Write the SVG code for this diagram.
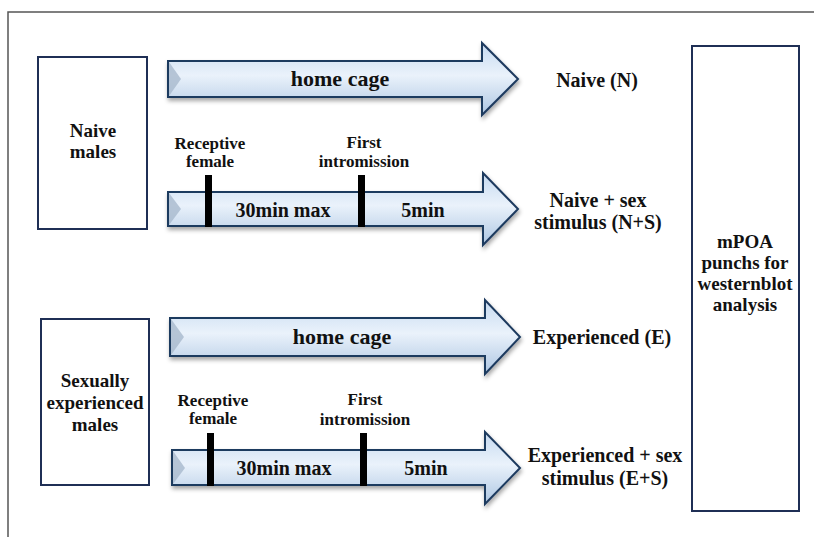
<svg xmlns="http://www.w3.org/2000/svg" width="814" height="537" viewBox="0 0 814 537">
  <defs>
    <linearGradient id="ag" x1="0" y1="0" x2="0" y2="1">
      <stop offset="0" stop-color="#c6daf0"/>
      <stop offset="0.45" stop-color="#eaf2fb"/>
      <stop offset="1" stop-color="#adc6e2"/>
    </linearGradient>
    <filter id="sh" x="-5%" y="-20%" width="115%" height="150%">
      <feDropShadow dx="1" dy="3" stdDeviation="2" flood-color="#000" flood-opacity="0.35"/>
    </filter>
  </defs>
  <style>
    .frame{fill:none;stroke:#555;stroke-width:1.5}
    .box{fill:#fff;stroke:#1f2f55;stroke-width:2}
    .arrow{fill:url(#ag);stroke:#1f3a5f;stroke-width:2;stroke-linejoin:miter;filter:url(#sh)}
    .bevel{fill:#a7b9cd;opacity:0.8}
    .bar{fill:#000}
    text{font-family:"Liberation Serif","Times New Roman",serif;font-weight:bold;fill:#111;text-anchor:middle}
    .big{font-size:22px}
    .lbl{font-size:20px}
    .box-t{font-size:19px}
    .sm{font-size:17px}
    .mid{font-size:20px}
  </style>
  <rect width="814" height="537" fill="#fff"/>
  <path class="frame" d="M8,537 L8,12 L814,12"/>

  <g id="naive-males">
    <rect class="box" x="38" y="57" width="109" height="172"/>
    <text class="box-t" x="93" y="137">Naive</text>
    <text class="box-t" x="93" y="158">males</text>
  </g>
  <g id="experienced-males">
    <rect class="box" x="41" y="319" width="108" height="166"/>
    <text class="box-t" x="95" y="387">Sexually</text>
    <text class="box-t" x="95" y="409">experienced</text>
    <text class="box-t" x="95" y="431">males</text>
  </g>
  <g id="mpoa">
    <rect class="box" x="692" y="46" width="107" height="465"/>
    <text class="box-t" x="745" y="248">mPOA</text>
    <text class="box-t" x="745" y="269">punchs for</text>
    <text class="box-t" x="745" y="290">westernblot</text>
    <text class="box-t" x="745" y="311">analysis</text>
  </g>

  <g id="connectors">
    <g id="arrow-n">
      <path class="arrow" d="M168,61 L482,61 L482,43 L518,79 L482,115 L482,97 L168,97 Z"/>
      <polygon class="bevel" points="169,62 181,79 169,96"/>
      <text class="big" x="340" y="86">home cage</text>
    </g>
    <g id="arrow-ns">
      <path class="arrow" d="M168,192 L483,192 L483,173 L518,209 L483,245 L483,226 L168,226 Z"/>
      <polygon class="bevel" points="169,193 181,209 169,225"/>
      <rect class="bar" x="205" y="175" width="7" height="52"/>
      <rect class="bar" x="358" y="175" width="7" height="52"/>
      <text class="mid" x="283" y="217">30min max</text>
      <text class="mid" x="423" y="217">5min</text>
    </g>
    <g id="arrow-e">
      <path class="arrow" d="M170,318 L485,318 L485,300 L520,337 L485,374 L485,356 L170,356 Z"/>
      <polygon class="bevel" points="171,319 184,337 171,355"/>
      <text class="big" x="342" y="344">home cage</text>
    </g>
    <g id="arrow-es">
      <path class="arrow" d="M172,450 L485,450 L485,432 L520,468 L485,504 L485,485 L172,485 Z"/>
      <polygon class="bevel" points="173,451 185,468 173,484"/>
      <rect class="bar" x="207" y="433" width="7" height="53"/>
      <rect class="bar" x="360" y="433" width="7" height="53"/>
      <text class="mid" x="284" y="475">30min max</text>
      <text class="mid" x="426" y="475">5min</text>
    </g>
  </g>

  <g id="timeline-labels">
    <text class="sm" x="210" y="149">Receptive</text>
    <text class="sm" x="210" y="167">female</text>
    <text class="sm" x="364" y="148">First</text>
    <text class="sm" x="364" y="167">intromission</text>
    <text class="sm" x="213" y="406">Receptive</text>
    <text class="sm" x="213" y="424">female</text>
    <text class="sm" x="365" y="405">First</text>
    <text class="sm" x="365" y="425">intromission</text>
  </g>

  <g id="outcomes">
    <text class="lbl" x="597" y="87">Naive (N)</text>
    <text class="lbl" x="598" y="207">Naive + sex</text>
    <text class="lbl" x="598" y="229">stimulus (N+S)</text>
    <text class="lbl" x="602" y="344">Experienced (E)</text>
    <text class="lbl" x="605" y="462">Experienced + sex</text>
    <text class="lbl" x="605" y="485">stimulus (E+S)</text>
  </g>
</svg>
